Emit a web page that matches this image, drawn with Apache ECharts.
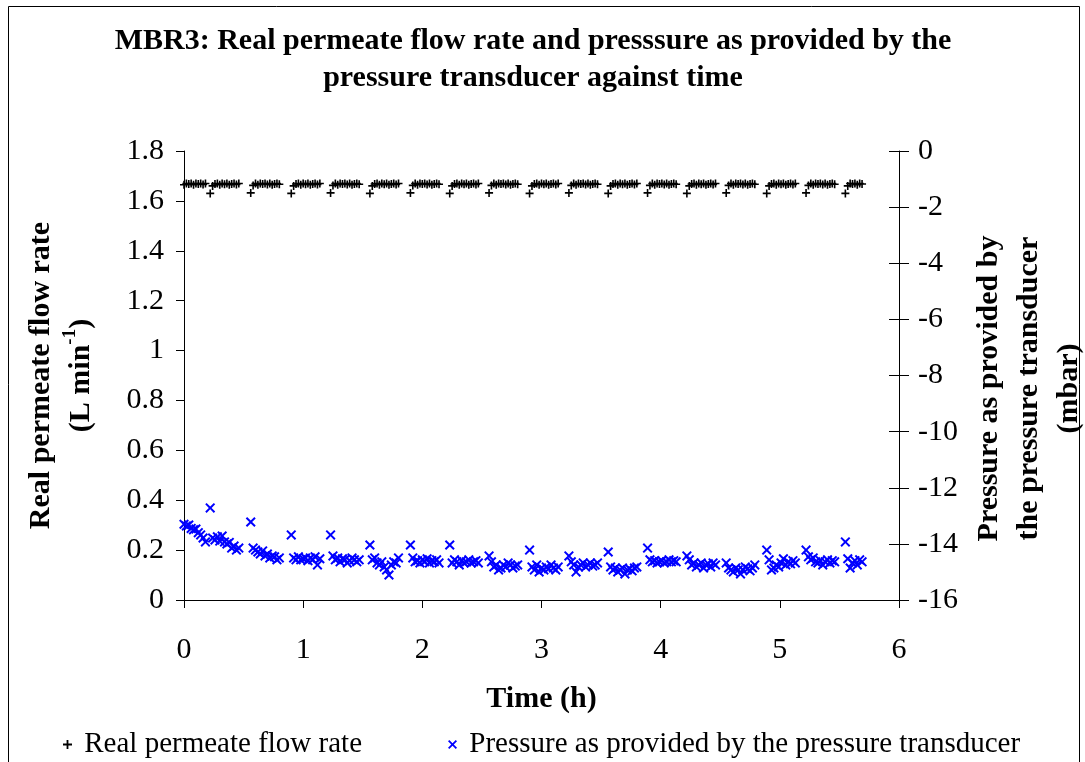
<!DOCTYPE html>
<html>
<head>
<meta charset="utf-8">
<script src="https://cdn.jsdelivr.net/npm/echarts@6/dist/echarts.min.js"></script>
<style>
  html, body { margin: 0; padding: 0; background: #fff; }
  #chart { width: 1085px; height: 762px; }
</style>
</head>
<body>
<div id="chart"></div>
<script>
// sampling times (h), one row per filtration cycle
const timeH = [
  0.00, 0.02, 0.04, 0.06, 0.08, 0.10, 0.12, 0.14, 0.16, 0.18,
  0.22, 0.24, 0.26, 0.28, 0.30, 0.32, 0.34, 0.36, 0.38, 0.40, 0.42, 0.44, 0.46,
  0.56, 0.58, 0.60, 0.62, 0.64, 0.66, 0.68, 0.70, 0.72, 0.74, 0.76, 0.78, 0.80,
  0.90, 0.92, 0.94, 0.96, 0.98, 1.00, 1.02, 1.04, 1.06, 1.08, 1.10, 1.12, 1.14,
  1.23, 1.25, 1.27, 1.29, 1.31, 1.33, 1.35, 1.37, 1.39, 1.41, 1.43, 1.45, 1.47,
  1.56, 1.58, 1.60, 1.62, 1.64, 1.66, 1.68, 1.70, 1.72, 1.74, 1.76, 1.78, 1.80,
  1.90, 1.92, 1.94, 1.96, 1.98, 2.00, 2.02, 2.04, 2.06, 2.08, 2.10, 2.12, 2.14,
  2.23, 2.25, 2.27, 2.29, 2.31, 2.33, 2.35, 2.37, 2.39, 2.41, 2.43, 2.45, 2.47,
  2.56, 2.58, 2.60, 2.62, 2.64, 2.66, 2.68, 2.70, 2.72, 2.74, 2.76, 2.78, 2.80,
  2.90, 2.92, 2.94, 2.96, 2.98, 3.00, 3.02, 3.04, 3.06, 3.08, 3.10, 3.12, 3.14,
  3.23, 3.25, 3.27, 3.29, 3.31, 3.33, 3.35, 3.37, 3.39, 3.41, 3.43, 3.45, 3.47,
  3.56, 3.58, 3.60, 3.62, 3.64, 3.66, 3.68, 3.70, 3.72, 3.74, 3.76, 3.78, 3.80,
  3.89, 3.91, 3.93, 3.95, 3.97, 3.99, 4.01, 4.03, 4.05, 4.07, 4.09, 4.11, 4.13,
  4.22, 4.24, 4.26, 4.28, 4.30, 4.32, 4.34, 4.36, 4.38, 4.40, 4.42, 4.44, 4.46,
  4.55, 4.57, 4.59, 4.61, 4.63, 4.65, 4.67, 4.69, 4.71, 4.73, 4.75, 4.77, 4.79,
  4.89, 4.91, 4.93, 4.95, 4.97, 4.99, 5.01, 5.03, 5.05, 5.07, 5.09, 5.11, 5.13,
  5.22, 5.24, 5.26, 5.28, 5.30, 5.32, 5.34, 5.36, 5.38, 5.40, 5.42, 5.44, 5.46,
  5.55, 5.57, 5.59, 5.61, 5.63, 5.65, 5.67, 5.69
]

// real permeate flow rate (L/min)
const flowRate = [
  1.665, 1.670, 1.668, 1.670, 1.665, 1.670, 1.668, 1.670, 1.666, 1.670,
  1.630, 1.660, 1.668, 1.670, 1.665, 1.670, 1.667, 1.670, 1.665, 1.668, 1.670, 1.666, 1.670,
  1.632, 1.662, 1.670, 1.665, 1.670, 1.668, 1.670, 1.666, 1.670, 1.665, 1.668, 1.670, 1.667,
  1.630, 1.660, 1.668, 1.670, 1.665, 1.670, 1.667, 1.670, 1.665, 1.668, 1.670, 1.666, 1.670,
  1.632, 1.662, 1.670, 1.665, 1.670, 1.668, 1.670, 1.666, 1.670, 1.665, 1.668, 1.670, 1.667,
  1.630, 1.660, 1.668, 1.670, 1.665, 1.670, 1.667, 1.670, 1.665, 1.668, 1.670, 1.666, 1.670,
  1.632, 1.662, 1.670, 1.665, 1.670, 1.668, 1.670, 1.666, 1.670, 1.665, 1.668, 1.670, 1.667,
  1.630, 1.660, 1.668, 1.670, 1.665, 1.670, 1.667, 1.670, 1.665, 1.668, 1.670, 1.666, 1.670,
  1.632, 1.662, 1.670, 1.665, 1.670, 1.668, 1.670, 1.666, 1.670, 1.665, 1.668, 1.670, 1.667,
  1.630, 1.660, 1.668, 1.670, 1.665, 1.670, 1.667, 1.670, 1.665, 1.668, 1.670, 1.666, 1.670,
  1.632, 1.662, 1.670, 1.665, 1.670, 1.668, 1.670, 1.666, 1.670, 1.665, 1.668, 1.670, 1.667,
  1.630, 1.660, 1.668, 1.670, 1.665, 1.670, 1.667, 1.670, 1.665, 1.668, 1.670, 1.666, 1.670,
  1.632, 1.662, 1.670, 1.665, 1.670, 1.668, 1.670, 1.666, 1.670, 1.665, 1.668, 1.670, 1.667,
  1.630, 1.660, 1.668, 1.670, 1.665, 1.670, 1.667, 1.670, 1.665, 1.668, 1.670, 1.666, 1.670,
  1.632, 1.662, 1.670, 1.665, 1.670, 1.668, 1.670, 1.666, 1.670, 1.665, 1.668, 1.670, 1.667,
  1.630, 1.660, 1.668, 1.670, 1.665, 1.670, 1.667, 1.670, 1.665, 1.668, 1.670, 1.666, 1.670,
  1.632, 1.662, 1.670, 1.665, 1.670, 1.668, 1.670, 1.666, 1.670, 1.665, 1.668, 1.670, 1.667,
  1.630, 1.660, 1.670, 1.668, 1.670, 1.665, 1.670, 1.668
]

// pressure from the transducer (mbar)
const pressure = [
  -13.30, -13.36, -13.33, -13.45, -13.50, -13.47, -13.60, -13.68, -13.79, -13.93,
  -12.72, -13.79, -13.86, -13.75, -13.90, -13.72, -13.93, -14.00, -13.95, -14.15, -14.08, -14.22, -14.15,
  -13.22, -14.15, -14.22, -14.29, -14.36, -14.25, -14.43, -14.36, -14.50, -14.43, -14.46, -14.57, -14.50,
  -13.68, -14.50, -14.57, -14.46, -14.57, -14.53, -14.50, -14.60, -14.50, -14.57, -14.46, -14.75, -14.53,
  -13.68, -14.43, -14.57, -14.50, -14.64, -14.53, -14.57, -14.68, -14.60, -14.50, -14.57, -14.64, -14.57,
  -14.04, -14.57, -14.50, -14.68, -14.75, -14.64, -14.82, -14.93, -15.11, -14.75, -14.64, -14.68, -14.50,
  -14.04, -14.50, -14.64, -14.60, -14.68, -14.57, -14.64, -14.53, -14.68, -14.60, -14.64, -14.57, -14.68,
  -14.04, -14.68, -14.57, -14.64, -14.75, -14.60, -14.68, -14.64, -14.57, -14.68, -14.64, -14.60, -14.68,
  -14.43, -14.64, -14.82, -14.75, -14.93, -14.86, -14.75, -14.82, -14.68, -14.75, -14.86, -14.79, -14.75,
  -14.22, -14.82, -14.93, -14.75, -15.00, -14.86, -14.93, -14.82, -14.89, -14.75, -14.86, -14.93, -14.82,
  -14.43, -14.64, -14.75, -15.00, -14.82, -14.75, -14.68, -14.82, -14.75, -14.68, -14.79, -14.75, -14.68,
  -14.29, -14.82, -14.93, -14.86, -15.00, -14.93, -14.86, -15.07, -14.93, -14.89, -14.96, -14.86, -14.82,
  -14.15, -14.57, -14.64, -14.60, -14.68, -14.64, -14.60, -14.68, -14.64, -14.57, -14.64, -14.60, -14.64,
  -14.43, -14.57, -14.75, -14.68, -14.82, -14.75, -14.68, -14.86, -14.75, -14.71, -14.82, -14.68, -14.75,
  -14.68, -14.86, -14.93, -15.00, -14.86, -14.93, -15.07, -14.93, -14.82, -14.89, -14.96, -14.86, -14.75,
  -14.22, -14.57, -14.93, -14.86, -14.75, -14.82, -14.68, -14.53, -14.75, -14.64, -14.71, -14.60, -14.68,
  -14.22, -14.46, -14.57, -14.50, -14.64, -14.68, -14.60, -14.75, -14.64, -14.57, -14.68, -14.60, -14.64,
  -13.93, -14.53, -14.86, -14.68, -14.60, -14.75, -14.57, -14.64
]

const seriesNames = ['Real permeate flow rate', 'Pressure as provided by the pressure transducer']

const serif = "'Liberation Serif', 'Times New Roman', serif"
const plusIcon = 'path://M4,0 h2 v4 h4 v2 h-4 v4 h-2 v-4 h-4 v-2 h4 z'
const crossIcon = 'path://M0,1.4 L1.4,0 L5,3.6 L8.6,0 L10,1.4 L6.4,5 L10,8.6 L8.6,10 L5,6.4 L1.4,10 L0,8.6 L3.6,5 Z'

const chart = echarts.init(document.getElementById('chart'))

const axisBase = {
  axisLine: { show: true, lineStyle: { color: '#000', width: 1 } },
  axisTick: { show: true, length: 8, lineStyle: { color: '#000' } },
  splitLine: { show: false },
  axisLabel: { color: '#000', fontFamily: serif, fontSize: 30 },
  nameTextStyle: { color: '#000', fontFamily: serif, fontSize: 30, fontWeight: 'bold', lineHeight: 40 }
}

const option = {
  backgroundColor: '#fff',
  animation: false,
  title: {
    text: 'MBR3: Real permeate flow rate and presssure as provided by the\npressure transducer against time',
    left: 528,
    top: 18,
    textAlign: 'center',
    textStyle: { fontFamily: serif, fontSize: 30, fontWeight: 'bold', color: '#000', lineHeight: 37 }
  },
  grid: { left: 184, right: 186, top: 151, bottom: 162, outerBoundsMode: 'none' },
  legend: {
    left: 58,
    top: 725,
    itemWidth: 9,
    itemHeight: 9,
    itemGap: 86,
    formatter: ' {name}',
    data: [
      { name: seriesNames[0], icon: plusIcon },
      { name: seriesNames[1], icon: crossIcon }
    ],
    textStyle: { fontFamily: serif, fontSize: 29, color: '#000' }
  },
  xAxis: {
    ...axisBase,
    type: 'value',
    min: 0, max: 6, interval: 1,
    name: 'Time (h)',
    nameLocation: 'middle',
    nameGap: 79,
    axisLabel: { ...axisBase.axisLabel, margin: 35 }
  },
  yAxis: [
    {
      ...axisBase,
      type: 'value',
      position: 'left',
      min: 0, max: 1.8, interval: 0.2,
      name: 'Real permeate flow rate\n(L min{sup|-1})',
      nameLocation: 'middle',
      nameRotate: 90,
      nameGap: 83,
      nameTextStyle: {
        ...axisBase.nameTextStyle,
        rich: { sup: { fontFamily: serif, fontSize: 19, fontWeight: 'bold', color: '#000', verticalAlign: 'top', lineHeight: 40 } }
      },
      axisLabel: { ...axisBase.axisLabel, margin: 20 }
    },
    {
      ...axisBase,
      type: 'value',
      position: 'right',
      min: -16, max: 0, interval: 2,
      name: 'Pressure as provided by\nthe pressure transducer\n(mbar)',
      nameLocation: 'middle',
      nameRotate: 90,
      nameGap: 56,
      nameTextStyle: { ...axisBase.nameTextStyle, padding: [0, 26, 0, 0] },
      axisTick: { show: true, length: 10, lineStyle: { color: '#000' } },
      axisLabel: { ...axisBase.axisLabel, margin: 19 }
    },
    {
      // inner half of the crossing ticks on the right axis
      type: 'value',
      position: 'right',
      min: -16, max: 0, interval: 2,
      axisLine: { show: false },
      axisTick: { show: true, inside: true, length: 10, lineStyle: { color: '#000' } },
      axisLabel: { show: false },
      splitLine: { show: false }
    }
  ],
  series: [
    {
      name: seriesNames[0],
      type: 'scatter',
      yAxisIndex: 0,
      symbol: plusIcon,
      symbolSize: 8,
      itemStyle: { color: '#000', opacity: 1 },
      data: timeH.map((t, i) => [t, flowRate[i]])
    },
    {
      name: seriesNames[1],
      type: 'scatter',
      yAxisIndex: 1,
      symbol: crossIcon,
      symbolSize: 10,
      itemStyle: { color: '#0000ff', opacity: 1 },
      data: timeH.map((t, i) => [t, pressure[i]])
    }
  ],
  graphic: [
    {
      type: 'rect',
      shape: { x: 8.5, y: 6.5, width: 1071, height: 800 },
      style: { fill: 'none', stroke: '#000', lineWidth: 1 },
      silent: true,
      z: -1
    }
  ]
}

chart.setOption(option)
</script>
</body>
</html>
